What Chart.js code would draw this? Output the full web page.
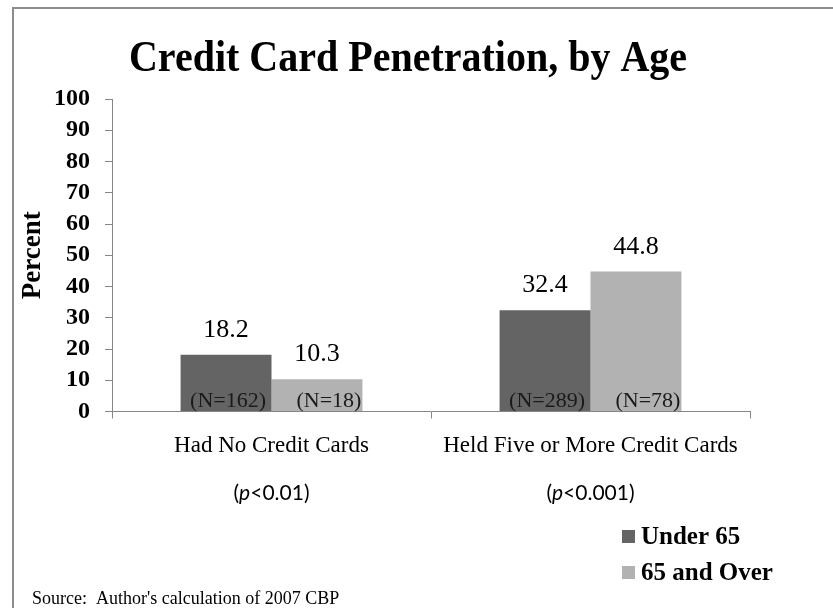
<!DOCTYPE html>
<html><head><meta charset="utf-8">
<script src="https://cdn.jsdelivr.net/npm/chart.js@4/dist/chart.umd.min.js"></script>
<style>html,body{margin:0;padding:0;background:#fff;overflow:hidden}#wrap{width:833px;height:608px;position:relative}</style>
</head><body><div id="wrap"><canvas id="c" width="833" height="608"></canvas></div>
<script>
const chartTitle = 'Credit Card Penetration, by Age';
const categories = ['Had No Credit Cards', 'Held Five or More Credit Cards'];
const pValues = ['<0.01', '<0.001'];
const seriesNames = ['Under 65', '65 and Over'];
const under65 = [18.2, 32.4];
const over65 = [10.3, 44.8];
const nUnder65 = [162, 289];
const nOver65 = [18, 78];
const yMin = 0, yMax = 100, yStep = 10;
const sourceText = "Source:  Author's calculation of 2007 CBP";

const SERIF = '"Liberation Serif", "Times New Roman", serif';
const SANS = 'Lato, "Liberation Sans", sans-serif';
const colors = ['#646464', '#b2b2b2'];
const nLabels = [nUnder65, nOver65];

const annot = {
  id: 'annot',
  beforeDraw(chart) {
    const ctx = chart.ctx;
    ctx.save();
    ctx.fillStyle = '#fff';
    ctx.fillRect(0, 0, chart.width, chart.height);
    ctx.strokeStyle = '#8c8c8c';
    ctx.lineWidth = 2;
    ctx.beginPath();
    ctx.moveTo(13, chart.height);
    ctx.lineTo(13, 8);
    ctx.lineTo(chart.width, 8);
    ctx.stroke();
    ctx.restore();
  },
  afterDraw(chart) {
    const ctx = chart.ctx;
    const xs = chart.scales.x;
    ctx.save();
    ctx.fillStyle = '#000';
    // title (slightly tall, as in the reference)
    ctx.save();
    ctx.translate(408, 71);
    ctx.scale(1, 1.1);
    ctx.font = 'bold 40px ' + SERIF;
    ctx.textAlign = 'center';
    ctx.textBaseline = 'alphabetic';
    ctx.fillText(chartTitle, 0, 0);
    ctx.restore();
    // value and N labels
    chart.data.datasets.forEach((ds, di) => {
      const meta = chart.getDatasetMeta(di);
      meta.data.forEach((bar, i) => {
        ctx.font = '26px ' + SERIF;
        ctx.textAlign = 'center';
        ctx.fillStyle = '#000';
        ctx.fillText(ds.data[i].toFixed(1), bar.x, bar.y - 18);
        ctx.font = '22px ' + SERIF;
        ctx.fillStyle = '#1a1a1a';
        const txt = '(N=' + nLabels[di][i] + ')';
        if (di === 0) {
          ctx.textAlign = 'center';
          ctx.fillText(txt, bar.x + 2, xs.top - 5);
        } else {
          ctx.textAlign = 'right';
          ctx.fillText(txt, bar.x + bar.width / 2 - 1, xs.top - 5);
        }
      });
    });
    // p-values
    ctx.fillStyle = '#000';
    ctx.textAlign = 'left';
    pValues.forEach((pv, i) => {
      const cx = xs.getPixelForValue(i);
      const fN = '21px ' + SANS, fI = 'italic 21px ' + SANS;
      ctx.font = fN; const w1 = ctx.measureText('(').width;
      ctx.font = fI; const w2 = ctx.measureText('p').width;
      ctx.font = fN; const w3 = ctx.measureText(pv + ')').width;
      let x = cx - (w1 + w2 + w3) / 2;
      const y = 500;
      ctx.font = fN; ctx.fillText('(', x, y); x += w1;
      ctx.font = fI; ctx.fillText('p', x, y); x += w2;
      ctx.font = fN; ctx.fillText(pv + ')', x, y);
    });
    // legend
    chart.data.datasets.forEach((ds, di) => {
      const y = 544 + di * 36;
      ctx.fillStyle = ds.backgroundColor;
      ctx.fillRect(622, y - 14, 13, 13);
      ctx.fillStyle = '#000';
      ctx.font = 'bold 25px ' + SERIF;
      ctx.textAlign = 'left';
      ctx.fillText(ds.label, 641, y);
    });
    // source
    ctx.font = '18px ' + SERIF;
    ctx.fillStyle = '#000';
    ctx.textAlign = 'left';
    ctx.fillText(sourceText, 32, 604);
    ctx.restore();
  }
};

new Chart(document.getElementById('c'), {
  type: 'bar',
  data: {
    labels: categories,
    datasets: [
      { label: seriesNames[0], data: under65, backgroundColor: colors[0], categoryPercentage: 0.57, barPercentage: 1.0 },
      { label: seriesNames[1], data: over65, backgroundColor: colors[1], categoryPercentage: 0.57, barPercentage: 1.0 }
    ]
  },
  options: {
    responsive: false,
    animation: false,
    devicePixelRatio: 1,
    layout: { padding: { top: 99, right: 83, bottom: 0, left: 0 } },
    plugins: { legend: { display: false }, title: { display: false }, tooltip: { enabled: false } },
    scales: {
      x: {
        grid: { offset: true, drawOnChartArea: false, tickLength: 7, color: '#868686' },
        border: { color: '#868686' },
        ticks: { font: { family: SERIF, size: 23 }, color: '#000', padding: 14 },
        afterFit(s) { s.height = 196.5; }
      },
      y: {
        min: yMin, max: yMax,
        ticks: { stepSize: yStep, autoSkip: false, font: { family: SERIF, size: 24, weight: 'bold', lineHeight: 1 }, color: '#000', padding: 15 },
        grid: { drawOnChartArea: false, tickLength: 7, color: '#868686' },
        border: { color: '#868686' },
        title: { display: true, text: 'Percent', font: { family: SERIF, size: 27, weight: 'bold' }, color: '#000', padding: { top: 17, bottom: 0 } },
        afterFit(s) { s.width = 112; }
      }
    }
  },
  plugins: [annot]
});
</script>
</body></html>
